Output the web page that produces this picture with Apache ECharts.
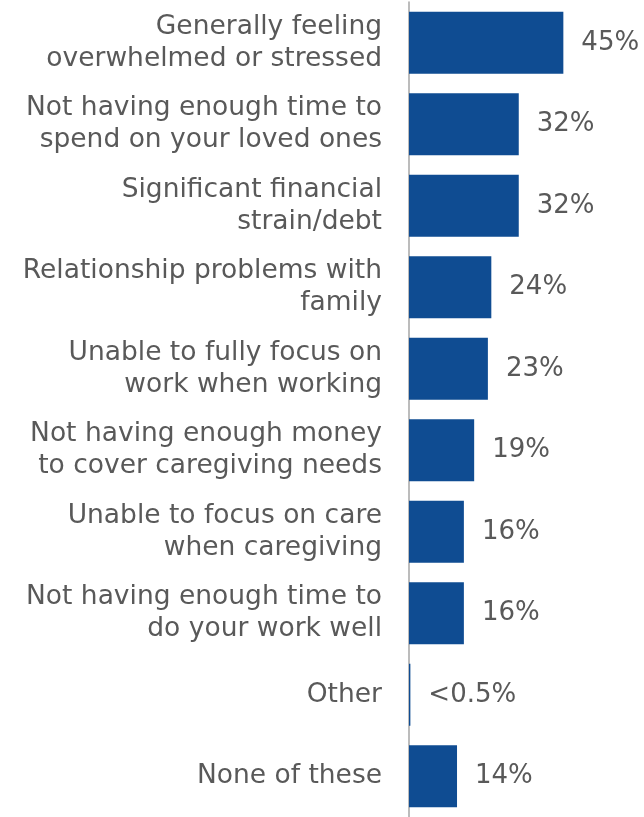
<!DOCTYPE html>
<html>
<head>
<meta charset="utf-8">
<script src="https://cdn.jsdelivr.net/npm/echarts@6/dist/echarts.min.js"></script>
<style>
  html, body { margin: 0; padding: 0; background: #fff; }
  #chart { width: 644px; height: 817px; }
</style>
</head>
<body>
<div id="chart"></div>
<script>
// Challenges reported by caregivers (share of respondents, %)
const categories = [
  'Generally feeling\noverwhelmed or stressed',
  'Not having enough time to\nspend on your loved ones',
  'Significant financial\nstrain/debt',
  'Relationship problems with\nfamily',
  'Unable to fully focus on\nwork when working',
  'Not having enough money\nto cover caregiving needs',
  'Unable to focus on care\nwhen caregiving',
  'Not having enough time to\ndo your work well',
  'Other',
  'None of these'
];
const values = [45, 32, 32, 24, 23, 19, 16, 16, 0.4, 14];
const valueLabels = ['45%', '32%', '32%', '24%', '23%', '19%', '16%', '16%', '<0.5%', '14%'];

const FONT = 'DejaVu Sans';
const TEXT = '#595959';

const chart = echarts.init(document.getElementById('chart'));
chart.setOption({
  animation: false,
  grid: { left: 409, top: 2, width: 171.5, height: 820, containLabel: false },
  xAxis: {
    type: 'value', min: 0, max: 50,
    show: false
  },
  yAxis: {
    type: 'category',
    data: categories,
    inverse: true,
    axisLine: { show: true, lineStyle: { color: '#A6A6A6', width: 1.5 } },
    axisTick: { show: false },
    splitLine: { show: false },
    axisLabel: {
      margin: 27,
      color: TEXT,
      fontFamily: FONT,
      fontSize: 26.5,
      lineHeight: 32,
      align: 'right'
    }
  },
  series: [{
    type: 'bar',
    data: values,
    barCategoryGap: '24%',
    itemStyle: { color: '#0F4C92' },
    label: {
      show: true,
      position: 'right',
      distance: 18,
      color: TEXT,
      fontFamily: FONT,
      fontSize: 26,
      formatter: p => valueLabels[p.dataIndex]
    }
  }]
});
</script>
</body>
</html>
